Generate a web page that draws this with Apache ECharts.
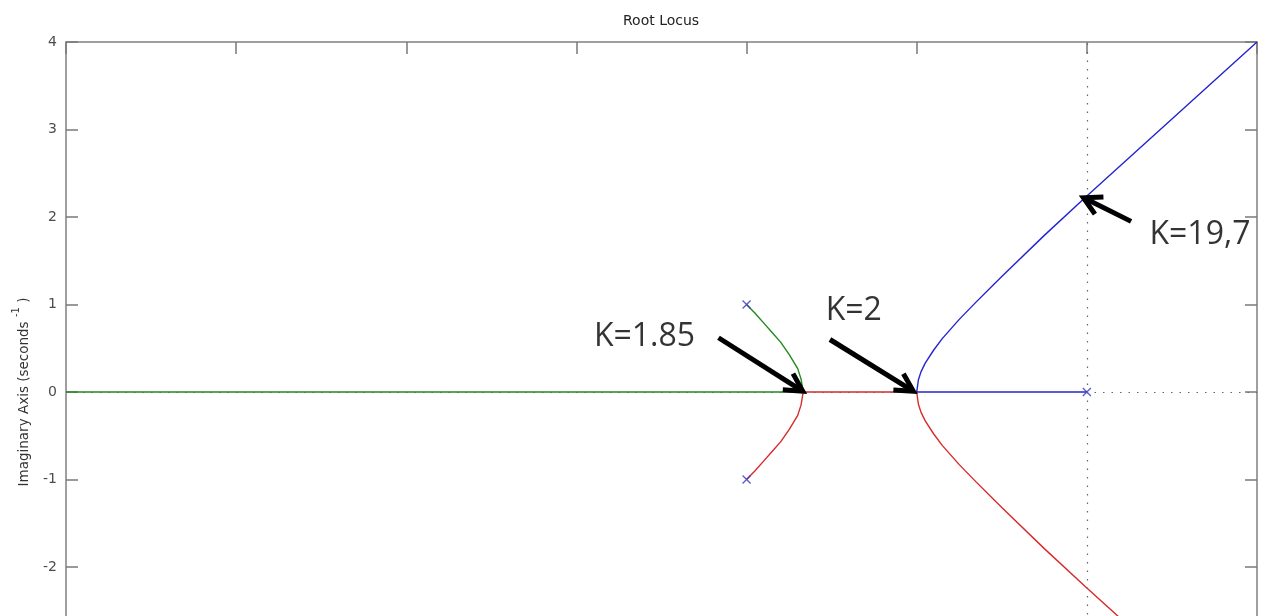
<!DOCTYPE html>
<html>
<head>
<meta charset="utf-8">
<script src="https://cdn.jsdelivr.net/npm/echarts@6/dist/echarts.min.js"></script>
<style>
html,body{margin:0;padding:0;background:#fff;}
#chart{width:1266px;height:616px;}
</style>
</head>
<body>
<div id="chart"></div>
<script>
// ---- data ----
const titleText = 'Root Locus';
const yAxisName = 'Imaginary Axis (seconds';
const xTicks = { min: -6, max: 1, interval: 1 };
const yTicks = { min: -4, max: 4, interval: 1 };

// green branch: pole -2+j -> breakaway -1.667 -> along real axis to the left
const greenBranch = [
  [-2.00, 1.00], [-1.95, 0.90], [-1.90, 0.79], [-1.85, 0.68], [-1.80, 0.57],
  [-1.75, 0.43], [-1.70, 0.27], [-1.68, 0.15], [-1.667, 0.00], [-6.00, 0.00]
];
// red branch: pole -2-j -> -1.667 -> real axis to -1 -> lower asymptote
const redBranch = [
  [-2.00, -1.00], [-1.95, -0.90], [-1.90, -0.79], [-1.85, -0.68], [-1.80, -0.57],
  [-1.75, -0.43], [-1.70, -0.27], [-1.68, -0.15], [-1.667, 0.00], [-1.00, 0.00],
  [-0.99, -0.14], [-0.975, -0.23], [-0.95, -0.33], [-0.90, -0.48], [-0.85, -0.61],
  [-0.75, -0.83], [-0.65, -1.03], [-0.50, -1.32], [-0.25, -1.79], [0.00, -2.24],
  [0.25, -2.68], [0.50, -3.12], [0.75, -3.56], [1.00, -4.00]
];
// blue branch: pole 0 -> real axis to -1 -> upper asymptote
const blueBranch = [
  [0.00, 0.00], [-1.00, 0.00],
  [-0.99, 0.14], [-0.975, 0.23], [-0.95, 0.33], [-0.90, 0.48], [-0.85, 0.61],
  [-0.75, 0.83], [-0.65, 1.03], [-0.50, 1.32], [-0.25, 1.79], [0.00, 2.24],
  [0.25, 2.68], [0.50, 3.12], [0.75, 3.56], [1.00, 4.00]
];
const poles = [[0, 0], [-2, 1], [-2, -1]];

// annotations: text and arrows (data coordinates)
const annotationTexts = ['K=1.85', 'K=2', 'K=19,7'];
const annotationTextPos = [[-2.60, 0.63], [-1.37, 0.93], [0.665, 1.80]];
const arrowStart = [[-2.165, 0.62], [-1.51, 0.60], [0.26, 1.95]];
const arrowTip = [[-1.67, 0.01], [-1.02, 0.01], [-0.02, 2.22]];

// ---- chart ----
const chart = echarts.init(document.getElementById('chart'), null, { renderer: 'canvas' });

const arrowData = arrowStart.map((s, i) => [s[0], s[1], arrowTip[i][0], arrowTip[i][1]]);
const textData = annotationTextPos.map((p, i) => ({ name: annotationTexts[i], value: p }));

function renderArrow(params, api) {
  const p0 = api.coord([api.value(0), api.value(1)]);
  const p1 = api.coord([api.value(2), api.value(3)]);
  const ang = Math.atan2(p1[1] - p0[1], p1[0] - p0[0]);
  const L = 20, a = Math.PI / 6.3;
  const h1 = [p1[0] - L * Math.cos(ang - a), p1[1] - L * Math.sin(ang - a)];
  const h2 = [p1[0] - L * Math.cos(ang + a), p1[1] - L * Math.sin(ang + a)];
  const e = [p1[0] - 3 * Math.cos(ang), p1[1] - 3 * Math.sin(ang)];
  return {
    type: 'group',
    children: [
      { type: 'line', shape: { x1: p0[0], y1: p0[1], x2: e[0], y2: e[1] },
        style: { stroke: '#000', lineWidth: 5 } },
      { type: 'polyline', shape: { points: [h1, p1, h2] },
        style: { stroke: '#000', lineWidth: 5, fill: null, lineJoin: 'miter' } }
    ]
  };
}

const axisTextColor = '#4d4d4d';
const tickStyle = { show: true, inside: true, length: 12, lineStyle: { color: '#7a7a7a', width: 1.5 } };

const option = {
  animation: false,
  backgroundColor: '#fff',
  title: {
    text: titleText,
    left: 618, top: 9,
    textStyle: { fontFamily: 'DejaVu Sans', fontSize: 14, fontWeight: 'normal', color: '#222' }
  },
  grid: {
    left: 66, top: 42, width: 1191, height: 700,
    outerBoundsMode: 'none', containLabel: false,
    show: true, borderColor: '#808080', borderWidth: 1.5, backgroundColor: '#fff'
  },
  xAxis: [{
    type: 'value', position: 'top',
    min: xTicks.min, max: xTicks.max, interval: xTicks.interval,
    axisLine: { show: false, onZero: false }, axisTick: tickStyle,
    axisLabel: { show: false }, splitLine: { show: false }
  }],
  yAxis: [{
    type: 'value', position: 'left',
    min: yTicks.min, max: yTicks.max, interval: yTicks.interval,
    axisLine: { show: false, onZero: false }, axisTick: tickStyle,
    axisLabel: { show: true, margin: 9, color: axisTextColor, fontFamily: 'DejaVu Sans', fontSize: 14 },
    splitLine: { show: false },
    name: '{a|' + yAxisName + ' }{s|-1}{a| )}',
    nameLocation: 'middle', nameGap: 35,
    nameTextStyle: {
      color: '#333',
      rich: {
        a: { fontFamily: 'DejaVu Sans', fontSize: 13.5, color: '#333', lineHeight: 20, verticalAlign: 'bottom' },
        s: { fontFamily: 'DejaVu Sans', fontSize: 10, color: '#333', lineHeight: 20, verticalAlign: 'top' }
      }
    }
  }, {
    type: 'value', position: 'right',
    min: yTicks.min, max: yTicks.max, interval: yTicks.interval,
    axisLine: { show: false, onZero: false }, axisTick: tickStyle,
    axisLabel: { show: false }, splitLine: { show: false }
  }],
  series: [
    {
      type: 'line', name: 'axes', data: [], z: 1, silent: true,
      markLine: {
        silent: true, symbol: ['none', 'none'], label: { show: false },
        lineStyle: { color: '#666', width: 1.2, type: [1.5, 7] },
        data: [{ xAxis: 0 }, { yAxis: 0 }]
      }
    },
    { type: 'line', name: 'green', data: greenBranch, showSymbol: false, z: 3,
      lineStyle: { color: '#1f8a1f', width: 1.4 } },
    { type: 'line', name: 'red', data: redBranch, showSymbol: false, z: 3,
      lineStyle: { color: '#d82a2a', width: 1.4 } },
    { type: 'line', name: 'blue', data: blueBranch, showSymbol: false, z: 3,
      lineStyle: { color: '#2424d0', width: 1.4 } },
    { type: 'scatter', name: 'poles', data: poles, z: 4,
      symbol: 'path://M0 0 L10 10 M10 0 L0 10', symbolSize: 8,
      itemStyle: { color: 'none', borderColor: '#3030c8', borderWidth: 1.3 } },
    { type: 'custom', name: 'arrows', data: arrowData, renderItem: renderArrow, z: 6, clip: false,
      encode: { x: [0, 2], y: [1, 3] } },
    { type: 'scatter', name: 'labels', data: textData, symbolSize: 1, z: 6,
      itemStyle: { color: 'rgba(0,0,0,0)' },
      label: { show: true, position: 'inside', formatter: '{b}',
        fontFamily: 'Open Sans', fontSize: 32, color: '#000' } }
  ]
};
chart.setOption(option);
</script>
</body>
</html>
